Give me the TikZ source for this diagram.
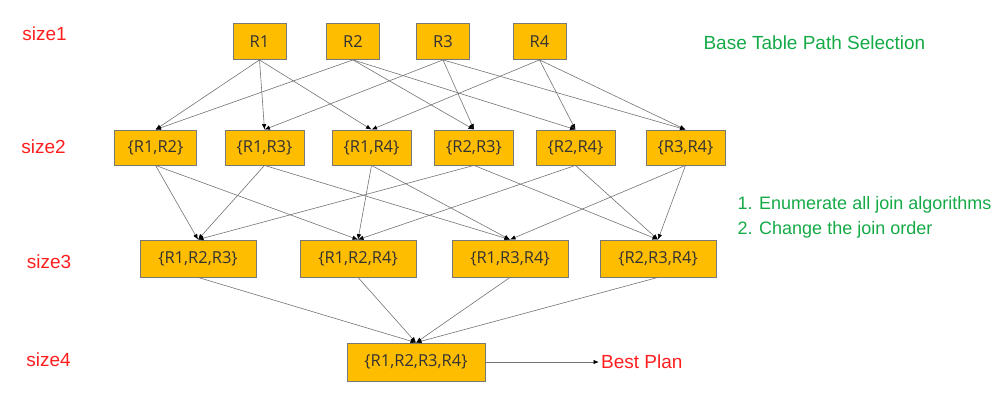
\documentclass[tikz,border=0pt]{standalone}
\usepackage{fontspec}
\setmainfont{Liberation Sans}
\newfontfamily\boxfont{Open Sans}
\usetikzlibrary{arrows.meta}

\definecolor{boxfill}{RGB}{255,189,0}
\definecolor{boxline}{RGB}{120,120,120}
\definecolor{sizered}{RGB}{255,30,30}
\definecolor{notegreen}{RGB}{20,170,70}

\tikzset{
  rel/.style={draw=boxline, fill=boxfill, line width=0.8pt, minimum height=36pt,
    inner xsep=3pt, font=\boxfont\fontsize{16.5}{16.5}\selectfont, text=black!80},
  edge/.style={draw=black!55, line width=0.6pt, -{Latex[length=5.5pt,width=4.5pt,black]}},
  sizelabel/.style={text=sizered, font=\fontsize{19}{19}\selectfont},
  note/.style={text=notegreen, font=\fontsize{18}{18}\selectfont, anchor=west}
}

\begin{document}
\begin{tikzpicture}[x=1pt, y=-1pt]
\useasboundingbox (0,0) rectangle (1001,408);

%size labels
\node[sizelabel] (s1) at (44.5,34) {size1};
\node[sizelabel] (s2) at (43.5,147) {size2};
\node[sizelabel] (s3) at (49,262) {size3};
\node[sizelabel] (s4) at (48.5,360) {size4};

%base tables
\node[rel, minimum width=53pt] (r1) at (259.5,41.5) {R1};
\node[rel, minimum width=53pt] (r2) at (353,41.5) {R2};
\node[rel, minimum width=53pt] (r3) at (443,41.5) {R3};
\node[rel, minimum width=53pt] (r4) at (539.5,41.5) {R4};

%two tables
\node[rel, minimum width=82pt, minimum height=35pt] (r12) at (155.5,147.5) {\{R1,R2\}};
\node[rel, minimum width=79pt, minimum height=35pt] (r13) at (264.5,147.5) {\{R1,R3\}};
\node[rel, minimum width=79pt, minimum height=35pt] (r14) at (371.5,147.5) {\{R1,R4\}};
\node[rel, minimum width=79pt, minimum height=35pt] (r23) at (474,147.5) {\{R2,R3\}};
\node[rel, minimum width=79pt, minimum height=35pt] (r24) at (575.5,147.5) {\{R2,R4\}};
\node[rel, minimum width=79pt, minimum height=35pt] (r34) at (685.5,147.5) {\{R3,R4\}};

%three tables
\node[rel, minimum width=116pt, minimum height=37pt] (r123) at (198,258.5) {\{R1,R2,R3\}};
\node[rel, minimum width=116pt, minimum height=37pt] (r124) at (358,258.5) {\{R1,R2,R4\}};
\node[rel, minimum width=116pt, minimum height=37pt] (r134) at (510,258.5) {\{R1,R3,R4\}};
\node[rel, minimum width=116pt, minimum height=37pt] (r234) at (658,258.5) {\{R2,R3,R4\}};

%all tables
\node[rel, minimum width=138pt, minimum height=38pt] (r1234) at (416,362) {\{R1,R2,R3,R4\}};

%edges
\foreach \s/\t in {r1/r12,r1/r13,r1/r14,r2/r12,r2/r23,r2/r24,r3/r13,r3/r23,r3/r34,r4/r14,r4/r24,r4/r34}
\draw[edge] (\s.south) -- (\t.north);

\foreach \s/\t in {r12/r123,r12/r124,r13/r123,r13/r134,r14/r124,r14/r134,r23/r123,r23/r234,r24/r124,r24/r234,r34/r134,r34/r234}
\draw[edge] (\s.south) -- (\t.north);

\foreach \s in {r123,r124,r134,r234}
\draw[edge] (\s.south) -- (r1234.north);

%best plan
\node[sizelabel, anchor=west, inner xsep=2pt] (best) at (599,362) {Best Plan};
\draw[edge, line width=0.9pt] (r1234.east) -- (best.west);

%notes
\node[note, font=\fontsize{19}{19}\selectfont] (n1) at (700,43) {Base Table Path Selection};
\node[note] (n2) at (734,205) {1. Enumerate all join algorithms};
\node[note] (n3) at (734,230) {2. Change the join order};
\end{tikzpicture}
\end{document}
